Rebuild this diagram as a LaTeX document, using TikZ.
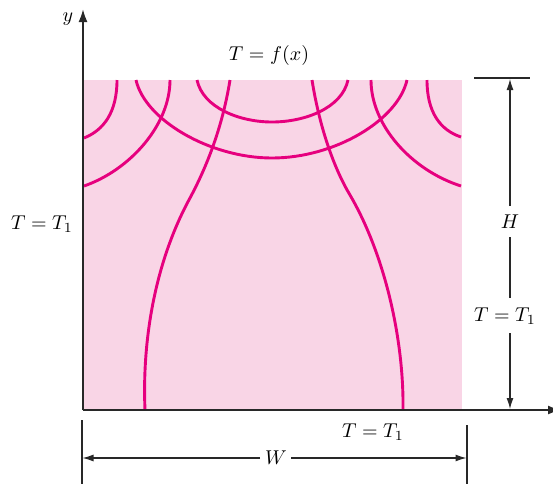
\documentclass[tikz,border=0pt]{standalone}
\usetikzlibrary{arrows.meta}
\definecolor{isocol}{RGB}{230,0,126}
\definecolor{platefill}{RGB}{249,213,230}
\definecolor{axcol}{RGB}{40,40,40}
\begin{document}
\begin{tikzpicture}[x=0.5pt,y=-0.5pt,line join=round,
  curve/.style={isocol,line width=1.45pt},
  axis/.style={axcol,line width=1pt},
  dim/.style={axcol,line width=0.6pt},
  dimtip/.style={-{Latex[length=5.5pt,width=3.5pt]}},
  axtip/.style={-{Latex[length=6.5pt,width=4.5pt]}},
  lbl/.style={inner sep=0pt}]
\useasboundingbox (0,0) rectangle (553,484);
% plate
\fill[platefill] (83,80) rectangle (462,410);
% isotherms (left)
\draw[curve] (117,80) .. controls (117,112) and (104,130) .. (84,138);
\draw[curve] (170,80) .. controls (170,125) and (130,170) .. (84,186);
% isotherms (right)
\draw[curve] (427,80) .. controls (427,112) and (440,130) .. (461,137);
\draw[curve] (371,80) .. controls (371,125) and (411,170) .. (461,186);
% isotherms (middle)
\draw[curve] (136,80) .. controls (145,120) and (210,158) .. (272,158)
                      .. controls (335,158) and (398,120) .. (407,80);
\draw[curve] (197,80) .. controls (203,108) and (240,122) .. (272,122)
                      .. controls (305,122) and (342,108) .. (348,80);
% heat flow lines
\draw[curve] (230,80) .. controls (222,130) and (205,170) .. (190,198)
                      .. controls (155,262) and (142,340) .. (145,410);
\draw[curve] (312,80) .. controls (320,130) and (335,170) .. (350,195)
                      .. controls (385,255) and (404,340) .. (403,410);
% axes
\coordinate (O) at (83,410);
\coordinate (ytop) at (83,9);
\coordinate (xend) at (561,410);
\draw[axis,axtip] (O) -- (ytop);
\draw[axis,axtip] (O) -- (xend);
\node[lbl] (ylab) at (68,19) {$y$};
\node[lbl] (xlab) at (561,427) {$x$};
% labels
\node[lbl] (top) at (269,55) {$T = f(x)$};
\node[lbl] (left) at (42,224) {$T = T_1$};
\node[lbl] (bottom) at (373,432) {$T = T_1$};
\node[lbl] (right) at (505,316) {$T = T_1$};
\node[lbl] (H) at (510,222) {$H$};
\node[lbl] (W) at (276,458) {$W$};
% H dimension
\coordinate (htl) at (474,78);
\coordinate (htr) at (530,78);
\coordinate (htip) at (510,79);
\coordinate (hbot) at (510,409);
\coordinate (ha) at (510,206);
\coordinate (hb) at (510,237);
\coordinate (hc) at (510,298);
\coordinate (hd) at (510,333);
\draw[dim] (htl) -- (htr);
\draw[dim,dimtip] (ha) -- (htip);
\draw[dim] (hb) -- (hc);
\draw[dim,dimtip] (hd) -- (hbot);
% W dimension
\coordinate (wl1) at (82,420);
\coordinate (wl2) at (82,484);
\coordinate (wr1) at (467,425);
\coordinate (wr2) at (467,484);
\coordinate (wa) at (260,458);
\coordinate (wb) at (291,458);
\coordinate (wltip) at (82.5,458);
\coordinate (wrtip) at (466.5,458);
\draw[dim] (wl1) -- (wl2);
\draw[dim] (wr1) -- (wr2);
\draw[dim,dimtip] (wa) -- (wltip);
\draw[dim,dimtip] (wb) -- (wrtip);
\end{tikzpicture}
\end{document}
